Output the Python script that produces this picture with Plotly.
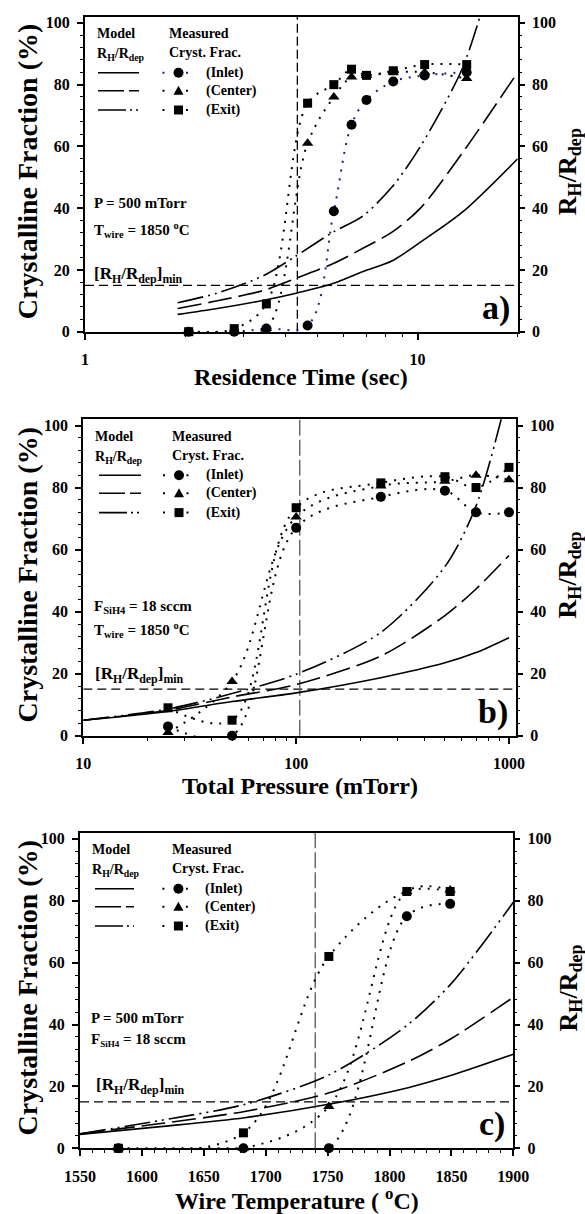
import math
import plotly.graph_objects as go

# ---------------- data ----------------
# panel a: residence time (s)
res_time = [2.05, 2.81, 3.51, 4.67, 5.6, 6.33, 7.02, 8.45, 10.5, 14.05]
a_inlet = [0, 0, 1, 2, 39, 67, 75, 81, 83, 84]
a_center = [0, 0, 1, 61, 76, 82.5, 83, 84, 84, 82]
a_exit = [0, 1, 9, 74, 80, 85, 83, 84.5, 86.5, 86.5]
a_model_x = [1.9, 2.5, 3.45, 4.25, 5.56, 6.85, 8.4, 10.2, 13.6, 20]
a_model_inlet = [5.6, 7.5, 10.2, 12.3, 15.6, 19.5, 23, 29, 38.6, 56]
a_model_center = [7.5, 10, 13.4, 17, 22, 27, 32.3, 40, 57.7, 84]
a_model_exit_x = [1.9, 2.5, 3.45, 4.25, 5.56, 6.85, 8.4, 10.2, 13.6, 16]
a_model_exit = [9.4, 12.5, 18.2, 24.1, 32.2, 37.5, 47, 60, 85, 108]
a_vline = 4.35

# panel b: total pressure (mTorr)
pressure = [25, 50, 100, 250, 500, 700, 1000]
b_inlet = [3, 0, 67, 77, 79, 72, 72]
b_center = [1, 17.5, 70.5, 80.5, 82, 84, 82.5]
b_exit = [9, 5, 73.5, 81.5, 83.5, 80, 86.5]
b_model_x = [10, 25, 50, 100, 250, 500, 700, 1000]
b_model_inlet = [5.0, 7.8, 11.0, 13.8, 18.7, 23.5, 26.8, 31.6]
b_model_center = [5.0, 8.2, 12.5, 16.5, 25.7, 38.7, 47.3, 58.1]
b_model_exit = [5.0, 8.6, 13.6, 19.8, 33.3, 54.5, 74, 112]
b_vline = 104

# panel c: wire temperature (C)
wire_temp = [1581, 1682, 1751, 1814, 1849]
c_inlet = [0, 0, 0, 75, 79]
c_center = [0, 0, 13.5, 83, 83.5]
c_exit = [0, 5, 62, 83, 83]
c_model_x = [1550, 1615, 1683, 1752, 1815, 1850, 1900]
c_model_inlet = [4.5, 7, 9.9, 14.3, 19.6, 23.6, 30.4]
c_model_center = [4.7, 8, 11.9, 18, 28, 35.5, 48.8]
c_model_exit = [4.7, 9, 14.2, 23.9, 40, 53.3, 79.5]
c_vline = 1740

rh_min = 15
y_ticks = [0, 20, 40, 60, 80, 100]
a_xticks = [1, 10]
a_xminor = [2, 3, 4, 5, 6, 7, 8, 9, 20]
b_xticks = [10, 100, 1000]
b_xminor = [20, 30, 40, 50, 60, 70, 80, 90, 200, 300, 400, 500, 600, 700, 800, 900]
c_xticks = [1550, 1600, 1650, 1700, 1750, 1800, 1850, 1900]

# ---------------- layout helpers ----------------
W, H = 585, 1214
FONT = "Liberation Serif"


def px(x):
    return x / W


def py(y):
    return 1 - y / H


# frames in pixels: left, top, right, bottom
frames = [(85, 16.7, 517.7, 331.7), (83.3, 419.3, 516, 735.7), (80, 832.7, 513.3, 1148.3)]
YMAX = 102

panels = [
    dict(type="log", range=[0, math.log10(20)], ticks=a_xticks, minor=a_xminor,
         x=res_time, inlet=a_inlet, center=a_center, exit=a_exit,
         mx=a_model_x, mi=a_model_inlet, mc=a_model_center, mex=a_model_exit_x, me=a_model_exit,
         vline=a_vline, vcolor="black", vdash="9px,4px", inlet_col="#1c1c8a",
         xlim=[1, 20], label="a)", title="Residence Time (sec)", title_dy=45,
         cond=["P = 500 mTorr", "T<sub>wire</sub> = 1850 <sup>o</sup>C"], cond_dy=[186.6, 213.3],
         cond_x=92, rmin_x=91.5, rmin_dy=258,
         model_x=95, meas_x=167, lx0=98, lx1=139, mkx=178.5, lab_x=203.5),
    dict(type="log", range=[1, 3.033], ticks=b_xticks, minor=b_xminor,
         x=pressure, inlet=b_inlet, center=b_center, exit=b_exit,
         mx=b_model_x, mi=b_model_inlet, mc=b_model_center, mex=b_model_x, me=b_model_exit,
         vline=b_vline, vcolor="#555555", vdash="16px,4px", inlet_col="black",
         xlim=[10, 1080], label="b)", title="Total Pressure (mTorr)", title_dy=50,
         cond=["F<sub>SiH4</sub> = 18 sccm", "T<sub>wire</sub> = 1850 <sup>o</sup>C"], cond_dy=[187.4, 210.7],
         cond_x=92, rmin_x=92.5, rmin_dy=255.4,
         model_x=93.3, meas_x=170, lx0=99, lx1=141, mkx=179, lab_x=204),
    dict(type="linear", range=[1550, 1900], ticks=c_xticks, minor=None,
         x=wire_temp, inlet=c_inlet, center=c_center, exit=c_exit,
         mx=c_model_x, mi=c_model_inlet, mc=c_model_center, mex=c_model_x, me=c_model_exit,
         vline=c_vline, vcolor="#555555", vdash="16px,4px", inlet_col="black",
         xlim=[1550, 1900], label="c)", title="Wire Temperature ( <sup>o</sup>C)", title_dy=51,
         cond=["P = 500 mTorr", "F<sub><span style='font-size:9px'>SiH4</span></sub> = 18 sccm"],
         cond_dy=[185.6, 207.3],
         cond_x=88.5, rmin_x=94, rmin_dy=253.6,
         model_x=90.3, meas_x=170, lx0=95, lx1=134, mkx=178.4, lab_x=203.4),
]

fig = go.Figure()
layout = dict(width=W, height=H, margin=dict(l=0, r=0, t=0, b=0),
              paper_bgcolor="white", plot_bgcolor="white", template="none",
              showlegend=False, font=dict(family=FONT, color="black"))
annotations = []
shapes = []

tickfont = dict(family=FONT, size=16, color="black", weight="bold")
MODEL_W = 1.6
DOT = "2px,7px"
dash_center = "24px,7px"
dash_exit = "26px,5px,2px,5px,2px,5px"

for i, (p, fr) in enumerate(zip(panels, frames)):
    n = i + 1
    l, t, r, b = fr
    xa = "x" if n == 1 else f"x{n}"
    ya = "y" if n == 1 else f"y{n}"
    ya_r = f"y{n + 3}"
    xdom = [px(l), px(r)]
    ydom = [py(b), py(t)]

    xcfg = dict(type=p["type"], range=p["range"], domain=xdom, anchor=ya,
                showline=True, linewidth=2, linecolor="black", mirror=True,
                ticks="outside", ticklen=6, tickwidth=1.5, tickcolor="black",
                tickmode="array", tickvals=p["ticks"], ticktext=[str(v) for v in p["ticks"]],
                showgrid=False, zeroline=False, tickfont=tickfont,
                ticklabelstandoff=6, automargin=False)
    topcfg = dict(type=p["type"], range=p["range"], overlaying=xa, side="top", anchor=ya,
                  matches=xa, showline=False, ticks="inside", ticklen=5, tickwidth=1.2,
                  tickcolor="black", tickmode="array", tickvals=p["ticks"],
                  showticklabels=False, showgrid=False, zeroline=False, automargin=False)
    if p["minor"] is not None:
        xcfg["minor"] = dict(tickmode="array", tickvals=p["minor"], ticks="outside",
                             ticklen=3, tickwidth=1.2, tickcolor="black", showgrid=False)
        topcfg["minor"] = dict(tickmode="array", tickvals=p["minor"], ticks="inside",
                               ticklen=3, tickwidth=1.2, tickcolor="black", showgrid=False)
    else:
        xcfg["minor"] = dict(dtick=10, ticks="outside", ticklen=3, tickwidth=1.2,
                             tickcolor="black", showgrid=False)
        topcfg["minor"] = dict(dtick=10, ticks="inside", ticklen=3, tickwidth=1.2,
                               tickcolor="black", showgrid=False)

    ycfg = dict(range=[0, YMAX], domain=ydom, anchor=xa,
                showline=True, linewidth=2, linecolor="black", mirror=True,
                ticks="outside", ticklen=6, tickwidth=1.5, tickcolor="black",
                tickmode="array", tickvals=y_ticks,
                minor=dict(dtick=4, tick0=0, ticks="outside", ticklen=3, tickwidth=1.2,
                           tickcolor="black", showgrid=False),
                showgrid=False, zeroline=False, tickfont=tickfont,
                ticklabelstandoff=4, automargin=False)
    yrcfg = dict(range=[0, YMAX], overlaying=ya, side="right", anchor=xa,
                 showline=False, ticks="outside", ticklen=6, tickwidth=1.5, tickcolor="black",
                 tickmode="array", tickvals=y_ticks,
                 minor=dict(dtick=4, tick0=0, ticks="outside", ticklen=3, tickwidth=1.2,
                            tickcolor="black", showgrid=False),
                 showgrid=False, zeroline=False, tickfont=tickfont,
                 ticklabelstandoff=4, automargin=False)

    layout["xaxis" if n == 1 else f"xaxis{n}"] = xcfg
    layout[f"xaxis{n + 3}"] = topcfg
    layout["yaxis" if n == 1 else f"yaxis{n}"] = ycfg
    layout[f"yaxis{n + 3}"] = yrcfg

    # reference lines
    fig.add_trace(go.Scatter(x=p["xlim"], y=[rh_min, rh_min], mode="lines", xaxis=xa, yaxis=ya,
                             line=dict(color="black", width=1.2, dash="9px,5px"), hoverinfo="skip"))
    fig.add_trace(go.Scatter(x=[p["vline"], p["vline"]], y=[0, YMAX], mode="lines", xaxis=xa, yaxis=ya,
                             line=dict(color=p["vcolor"], width=1.3, dash=p["vdash"]), hoverinfo="skip"))

    # model curves (right axis)
    fig.add_trace(go.Scatter(x=p["mx"], y=p["mi"], mode="lines", xaxis=xa, yaxis=ya_r,
                             line=dict(color="black", width=MODEL_W, shape="spline", smoothing=0.8)))
    fig.add_trace(go.Scatter(x=p["mx"], y=p["mc"], mode="lines", xaxis=xa, yaxis=ya_r,
                             line=dict(color="black", width=MODEL_W, dash=dash_center,
                                       shape="spline", smoothing=0.8)))
    fig.add_trace(go.Scatter(x=p["mex"], y=p["me"], mode="lines", xaxis=xa, yaxis=ya_r,
                             line=dict(color="black", width=MODEL_W, dash=dash_exit,
                                       shape="spline", smoothing=0.8)))

    # measured data with dotted spline
    for vals, lcol in [(p["inlet"], p["inlet_col"]), (p["center"], "black"), (p["exit"], "black")]:
        fig.add_trace(go.Scatter(x=p["x"], y=vals, mode="lines", xaxis=xa, yaxis=ya,
                                 line=dict(color=lcol, width=2, dash=DOT, shape="spline", smoothing=1)))
    for vals, sym, size in [(p["exit"], "square", 9), (p["center"], "triangle-up", 10),
                            (p["inlet"], "circle", 10)]:
        fig.add_trace(go.Scatter(x=p["x"], y=vals, mode="markers", xaxis=xa, yaxis=ya,
                                 marker=dict(symbol=sym, size=size, color="black", line=dict(width=0)),
                                 cliponaxis=False))

    # axis titles
    annotations.append(dict(text="<b>Crystalline Fraction (%)</b>", x=px(27), y=py((t + b) / 2 - 3),
                            xref="paper", yref="paper", textangle=-90, showarrow=False,
                            xanchor="center", yanchor="middle", font=dict(size=28, family=FONT)))
    annotations.append(dict(text="<b>R<sub>H</sub>/R<sub>dep</sub></b>", x=px(569), y=py((t + b) / 2 - 2),
                            xref="paper", yref="paper", textangle=-90, showarrow=False,
                            xanchor="center", yanchor="middle", font=dict(size=26, family=FONT)))
    annotations.append(dict(text=f"<b>{p['title']}</b>", x=px((l + r) / 2), y=py(b + p["title_dy"]),
                            xref="paper", yref="paper", showarrow=False,
                            xanchor="center", yanchor="middle", font=dict(size=24, family=FONT)))
    # panel label
    annotations.append(dict(text=f"<b>{p['label']}</b>", x=px(r - 6), y=py(b - 24),
                            xref="paper", yref="paper", showarrow=False,
                            xanchor="right", yanchor="middle", font=dict(size=34, family=FONT)))
    # conditions
    for txt, dy in zip(p["cond"], p["cond_dy"]):
        annotations.append(dict(text=f"<b>{txt}</b>", x=px(p["cond_x"]), y=py(t + dy),
                                xref="paper", yref="paper", showarrow=False,
                                xanchor="left", yanchor="middle", font=dict(size=15, family=FONT)))
    annotations.append(dict(text="<b>[R<sub>H</sub>/R<sub>dep</sub>]<sub>min</sub></b>",
                            x=px(p["rmin_x"]), y=py(t + p["rmin_dy"]),
                            xref="paper", yref="paper", showarrow=False,
                            xanchor="left", yanchor="middle", font=dict(size=17, family=FONT)))
    # legend block
    for txt, xx, dy in [("Model", p["model_x"], 16.8), ("R<sub>H</sub>/R<sub>dep</sub>", p["model_x"], 38),
                        ("Measured", p["meas_x"], 16.8), ("Cryst. Frac.", p["meas_x"], 35.8)]:
        annotations.append(dict(text=f"<b>{txt}</b>", x=px(xx), y=py(t + dy),
                                xref="paper", yref="paper", showarrow=False,
                                xanchor="left", yanchor="middle", font=dict(size=14, family=FONT)))
    rows = [("(Inlet)", 56, "circle"), ("(Center)", 74, "tri"), ("(Exit)", 93.3, "square")]
    for k, (txt, dy, mk) in enumerate(rows):
        yy = py(t + dy)
        annotations.append(dict(text=f"<b>{txt}</b>", x=px(p["lab_x"]), y=yy,
                                xref="paper", yref="paper", showarrow=False,
                                xanchor="left", yanchor="middle", font=dict(size=14, family=FONT)))
        ln = dict(color="black", width=MODEL_W)
        if k == 1:
            ln["dash"] = "26px,5px"
        elif k == 2:
            ln["dash"] = "28px,4px,2px,4px,2px,20px"
        shapes.append(dict(type="line", xref="paper", yref="paper", x0=px(p["lx0"]), x1=px(p["lx1"]),
                           y0=yy, y1=yy, line=ln))
        dcol = p["inlet_col"] if k == 0 else "black"
        shapes.append(dict(type="line", xref="paper", yref="paper", x0=px(p["mkx"] - 16),
                           x1=px(p["mkx"] + 9.5), y0=yy, y1=yy,
                           line=dict(color=dcol, width=2, dash="2px,21.5px")))
        base = dict(xref="paper", yref="paper", xsizemode="pixel", ysizemode="pixel",
                    xanchor=px(p["mkx"]), yanchor=yy, fillcolor="black", line=dict(width=0))
        if mk == "circle":
            shapes.append(dict(type="circle", x0=-5, x1=5, y0=-5, y1=5, **base))
        elif mk == "square":
            shapes.append(dict(type="rect", x0=-4.5, x1=4.5, y0=-4.5, y1=4.5, **base))
        else:
            shapes.append(dict(type="path", path="M -5,-4 L 5,-4 L 0,5 Z", **base))

layout["annotations"] = annotations
layout["shapes"] = shapes
fig.update_layout(**layout)
fig.write_html("out.html")
